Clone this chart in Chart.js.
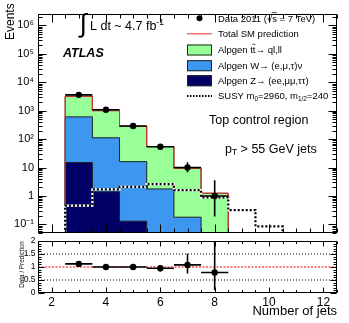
<!DOCTYPE html>
<html><head><meta charset="utf-8">
<script src="https://cdn.jsdelivr.net/npm/chart.js@4.4.1/dist/chart.umd.min.js"></script>
<style>
html,body{margin:0;padding:0;background:#fff;width:349px;height:323px;overflow:hidden}
#main{position:absolute;left:0;top:0}
#ratio{position:absolute;left:0;top:237px}
</style></head><body>
<canvas id="main" width="349" height="237"></canvas>
<canvas id="ratio" width="349" height="86"></canvas>
<script>
// ---------- data ----------
const nJets        = [3, 4, 5, 6, 7, 8];
const dataCounts   = [3600, 1080, 290, 54, 10, 1];
const dataErrUp    = [60, 33, 17, 7.5, 5.5, 2.6];
const dataErrDown  = [60, 33, 17, 7.2, 3.1, 0.81];
const ttbar        = [2600, 890, 264, 53, 9.3, 1.25];
const wjets        = [590, 110, 16, 1.75, 0.18, 0];
const zjets        = [15, 1.4, 0.13, 0.02, 0, 0];
const susyJets     = [3, 4, 5, 6, 7, 8, 9, 10];
const susy         = [0.46, 1.7, 2.1, 2.6, 1.6, 0.9, 0.32, 0.085];
const ratio        = [1.12, 1.0, 1.0, 0.95, 1.08, 0.79];
const ratioErrUp   = [0.03, 0.03, 0.06, 0.12, 0.43, 1.2];
const ratioErrDown = [0.03, 0.03, 0.06, 0.12, 0.33, 0.68];
const ratioRefLines = [1, 0.5, 1.5];
const yTickValues  = [0.1, 1, 10, 100, 1000, 1e4, 1e5, 1e6];
const yTickLabels  = ['10\u207B\u00B9', '1', '10', '10\u00B2', '10\u00B3', '10\u2074', '10\u2075', '10\u2076'];
const xTickValues  = [2, 4, 6, 8, 10, 12];
const xTickLabels  = ['2', '4', '6', '8', '10', '12'];
const ratioTickValues = [0, 0.5, 1, 1.5, 2];
const ratioTickLabels = ['0', '0.5', '1', '1.5', '2'];

// ---------- styling ----------
const FONT = "'Liberation Sans', Arial, Helvetica, sans-serif";
Chart.defaults.font.family = FONT;
Chart.defaults.color = '#000';
const C_TT = '#99ff99', C_W = '#3d97f0', C_Z = '#000066', C_RED = '#e8302a', C_EDGE = '#222';
const FLOOR = 1e-4;

function stepPoints(centers, values) {
  const pts = [{x: centers[0] - 0.5, y: FLOOR}];
  centers.forEach((c, i) => pts.push({x: c - 0.5, y: values[i] > 0 ? values[i] : FLOOR}));
  pts.push({x: centers[centers.length - 1] + 0.5, y: FLOOR});
  return pts;
}
const zStack  = zjets.map(v => v);
const wzStack = zjets.map((v, i) => v + wjets[i]);
const totStack = zjets.map((v, i) => v + wjets[i] + ttbar[i]);

// ---------- plugins ----------
const errorBarPlugin = {
  id: 'errorBars',
  beforeDatasetDraw(chart, args) {
    const ds = chart.data.datasets[args.index];
    if (!ds.errorBars) return;
    const {ctx, chartArea: a, scales: {x, y}} = chart;
    ctx.save();
    ctx.beginPath(); ctx.rect(a.left, a.top, a.right - a.left, a.bottom - a.top); ctx.clip();
    ctx.strokeStyle = '#000'; ctx.lineWidth = 1.6;
    ds.data.forEach((p, i) => {
      const px = x.getPixelForValue(p.x), py = y.getPixelForValue(p.y);
      ctx.beginPath();
      ctx.moveTo(x.getPixelForValue(p.x - 0.5), py);
      ctx.lineTo(x.getPixelForValue(p.x + 0.5), py);
      const lo = p.y - ds.errorBars.down[i];
      ctx.moveTo(px, y.getPixelForValue(p.y + ds.errorBars.up[i]));
      ctx.lineTo(px, lo > 0 || y.type !== 'logarithmic' ? y.getPixelForValue(lo) : a.bottom);
      ctx.stroke();
    });
    ctx.restore();
  }
};

function framePlugin(opt) {
  return {
    id: 'frame',
    afterDraw(chart) {
      const {ctx, chartArea: a, scales: {x, y}} = chart;
      ctx.save();
      ctx.strokeStyle = '#000'; ctx.lineWidth = 1;
      const L = Math.round(a.left) + 0.5, R = Math.round(a.right) - 0.5;
      const T = Math.round(a.top) + 0.5, B = Math.round(a.bottom) - 0.5;
      ctx.beginPath();
      for (let v = x.min; v <= x.max + 1e-9; v += opt.xStep) {
        const major = Math.abs(v / 2 - Math.round(v / 2)) < 1e-6;
        const len = major ? opt.xMajor : opt.xMinor;
        const px = Math.round(x.getPixelForValue(v)) + 0.5;
        ctx.moveTo(px, B); ctx.lineTo(px, B - len);
        ctx.moveTo(px, T); ctx.lineTo(px, T + len);
      }
      opt.yTicks(y).forEach(([v, major]) => {
        const py = Math.round(y.getPixelForValue(v)) + 0.5;
        const len = major ? opt.yMajor : opt.yMinor;
        ctx.moveTo(L, py); ctx.lineTo(L + len, py);
        ctx.moveTo(R, py); ctx.lineTo(R - len, py);
      });
      ctx.stroke();
      ctx.strokeRect(L, T, R - L, B - T);
      if (opt.yTitle) {
        ctx.save();
        ctx.fillStyle = '#000'; ctx.textAlign = 'center'; ctx.textBaseline = 'middle';
        ctx.font = `${opt.yTitle.size}px ${FONT}`;
        ctx.translate(opt.yTitle.x, y.getPixelForValue(opt.yTitle.at));
        ctx.rotate(-Math.PI / 2);
        ctx.fillText(opt.yTitle.text, 0, 0);
        ctx.restore();
      }
      ctx.restore();
    }
  };
}

function richText(ctx, x, y, parts, size, style) {
  let cx = x;
  for (const p of parts) {
    const [t, mode, over] = p;
    const s = mode ? size * 0.68 : size;
    ctx.font = `${style || ''} ${s}px ${FONT}`;
    const dy = mode === 1 ? -size * 0.38 : mode === -1 ? size * 0.22 : 0;
    ctx.fillText(t, cx, y + dy);
    const w = ctx.measureText(t).width;
    if (over) {
      ctx.save(); ctx.strokeStyle = '#000'; ctx.lineWidth = 0.7;
      ctx.beginPath(); ctx.moveTo(cx - 0.5, y - size * 0.95); ctx.lineTo(cx + w, y - size * 0.95); ctx.stroke();
      ctx.restore();
    }
    cx += w;
  }
  return cx;
}

const annotPlugin = {
  id: 'annot',
  afterDraw(chart) {
    const ctx = chart.ctx;
    const ds = chart.data.datasets;
    ctx.save();
    ctx.fillStyle = '#000'; ctx.textAlign = 'left'; ctx.textBaseline = 'alphabetic';
    ctx.save(); ctx.translate(13.5, 40); ctx.rotate(-Math.PI / 2);
    ctx.font = `12px ${FONT}`; ctx.fillText('Events', 0, 0); ctx.restore();
    ctx.font = `26px ${FONT}`; ctx.fillText('\u222B', 79.5, 32);
    richText(ctx, 90, 29.5, [['L dt ~ 4.7 fb', 0], ['-1', 1]], 12.5);
    ctx.font = `italic bold 12.5px ${FONT}`; ctx.fillText('ATLAS', 63, 56.5);
    ctx.font = `12.5px ${FONT}`; ctx.fillText('Top control region', 209, 123.5);
    richText(ctx, 225, 152.5, [['p', 0], ['T', -1], [' > 55 GeV jets', 0]], 12.5);
    // legend
    const lx0 = 187, lx1 = 212, tx = 218, fs = 9.5;
    const rows = [18.3, 33.3, 50, 65.7, 80.7, 96];
    const base = r => r + fs * 0.35;
    ctx.beginPath(); ctx.arc((lx0 + lx1) / 2, rows[0], 3, 0, Math.PI * 2); ctx.fill();
    richText(ctx, tx, base(rows[0]), [['Data 2011 (\u221A', 0], ['s', 0, true], [' = 7 TeV)', 0]], fs);
    ctx.strokeStyle = ds[3].borderColor; ctx.lineWidth = 1;
    ctx.beginPath(); ctx.moveTo(lx0, rows[1] + 0.5); ctx.lineTo(lx1, rows[1] + 0.5); ctx.stroke();
    richText(ctx, tx, base(rows[1]), [['Total SM prediction', 0]], fs);
    const boxes = [[ds[6].backgroundColor, rows[2], [['Alpgen t', 0], ['t', 0, true], ['\u2192 ql,ll', 0]]],
                   [ds[5].backgroundColor, rows[3], [['Alpgen W\u2192 (e,\u03BC,\u03C4)\u03BD', 0]]],
                   [ds[4].backgroundColor, rows[4], [['Alpgen Z\u2192 (ee,\u03BC\u03BC,\u03C4\u03C4)', 0]]]];
    boxes.forEach(([col, r, parts]) => {
      ctx.fillStyle = col; ctx.fillRect(lx0, r - 5.5, lx1 - lx0, 11);
      ctx.strokeStyle = C_EDGE; ctx.lineWidth = 1; ctx.strokeRect(lx0 + 0.5, r - 5.5 + 0.5, lx1 - lx0 - 1, 10);
      ctx.fillStyle = '#000';
      richText(ctx, tx, base(r), parts, fs);
    });
    ctx.strokeStyle = '#000'; ctx.lineWidth = 2; ctx.setLineDash([1.5, 1.5]);
    ctx.beginPath(); ctx.moveTo(lx0, rows[5]); ctx.lineTo(lx1, rows[5]); ctx.stroke();
    ctx.setLineDash([]);
    richText(ctx, tx, base(rows[5]), [['SUSY m', 0], ['0', -1], ['=2960, m', 0], ['1/2', -1], ['=240', 0]], fs);
    ctx.restore();
  }
};

// ---------- main chart ----------
const stepLine = (pts, extra) => Object.assign({
  type: 'line', data: pts, stepped: true, pointRadius: 0, tension: 0, borderWidth: 1
}, extra);

new Chart(document.getElementById('main'), {
  type: 'line',
  data: {
    datasets: [
      {type: 'scatter', data: nJets.map((c, i) => ({x: c, y: dataCounts[i]})),
       pointRadius: 3.2, backgroundColor: '#000', borderWidth: 0,
       errorBars: {up: dataErrUp, down: dataErrDown}},
      stepLine(stepPoints(susyJets, susy), {borderColor: '#000', borderWidth: 2.2, borderDash: [2, 2], fill: false}),
      stepLine(stepPoints(susyJets, susy), {borderColor: '#fff', borderWidth: 2.2, fill: false}),
      stepLine(stepPoints(nJets, totStack), {borderColor: C_RED, borderWidth: 1, fill: false}),
      stepLine(stepPoints(nJets, zStack), {borderColor: C_EDGE, backgroundColor: C_Z, fill: 'start'}),
      stepLine(stepPoints(nJets, wzStack), {borderColor: C_EDGE, backgroundColor: C_W, fill: 'start'}),
      stepLine(stepPoints(nJets, totStack), {borderColor: C_EDGE, backgroundColor: C_TT, fill: 'start'})
    ]
  },
  options: {
    responsive: false, animation: false, devicePixelRatio: 1, events: [],
    layout: {padding: {left: 0, right: 12, top: 14, bottom: 3}},
    plugins: {legend: {display: false}, tooltip: {enabled: false}},
    scales: {
      x: {type: 'linear', min: 1.5, max: 12.5, display: false},
      y: {
        type: 'logarithmic', min: 0.05, max: 2.5e6,
        grid: {display: false, drawTicks: false}, border: {display: false},
        afterBuildTicks: s => { s.ticks = yTickValues.map(v => ({value: v})); },
        afterFit: s => { s.width = 38; s.paddingTop = 0; s.paddingBottom = 0; },
        ticks: {font: {size: 11}, color: '#000', padding: 4, autoSkip: false,
                callback: (v, i) => yTickLabels[i]}
      }
    }
  },
  plugins: [errorBarPlugin, annotPlugin, framePlugin({
    xStep: 0.5, xMajor: 8, xMinor: 4, yMajor: 8, yMinor: 4,
    yTicks: y => {
      const out = [];
      for (let d = -2; d <= 6; d++) for (let k = 1; k <= 9; k++) {
        const v = k * Math.pow(10, d);
        if (v >= y.min * 0.999 && v <= y.max) out.push([v, k === 1]);
      }
      return out;
    }
  })]
});

// ---------- ratio chart ----------
new Chart(document.getElementById('ratio'), {
  type: 'line',
  data: {
    datasets: [
      {type: 'scatter', data: nJets.map((c, i) => ({x: c, y: ratio[i]})),
       pointRadius: 3.2, backgroundColor: '#000', borderWidth: 0,
       errorBars: {up: ratioErrUp, down: ratioErrDown}},
      {data: [{x: 1.5, y: ratioRefLines[0]}, {x: 12.5, y: ratioRefLines[0]}], borderColor: '#ff7a7a',
       borderWidth: 2, borderDash: [2, 1.5], pointRadius: 0},
      {data: [{x: 1.5, y: ratioRefLines[1]}, {x: 12.5, y: ratioRefLines[1]}], borderColor: '#000',
       borderWidth: 1, borderDash: [1, 2], pointRadius: 0},
      {data: [{x: 1.5, y: ratioRefLines[2]}, {x: 12.5, y: ratioRefLines[2]}], borderColor: '#000',
       borderWidth: 1, borderDash: [1, 2], pointRadius: 0}
    ]
  },
  options: {
    responsive: false, animation: false, devicePixelRatio: 1, events: [],
    layout: {padding: {left: 0, right: 12, top: 2.5, bottom: 0}},
    plugins: {legend: {display: false}, tooltip: {enabled: false}},
    scales: {
      x: {
        type: 'linear', min: 1.5, max: 12.5,
        grid: {display: false, drawTicks: false}, border: {display: false},
        afterBuildTicks: s => { s.ticks = xTickValues.map(v => ({value: v})); },
        afterFit: s => { s.height = 30; s.paddingLeft = 0; s.paddingRight = 0; },
        ticks: {font: {size: 12}, color: '#000', padding: 2, maxRotation: 0, autoSkip: false,
                callback: (v, i) => xTickLabels[i]},
        title: {display: true, text: 'Number of jets', align: 'end', font: {size: 13}, color: '#000',
                padding: {top: 0, bottom: 4}}
      },
      y: {
        min: 0, max: 2,
        grid: {display: false, drawTicks: false}, border: {display: false},
        afterBuildTicks: s => { s.ticks = ratioTickValues.map(v => ({value: v})); },
        afterFit: s => { s.width = 38; s.paddingTop = 0; s.paddingBottom = 0; },
        ticks: {font: {size: 8.5}, color: '#000', padding: 2.5, autoSkip: false,
                callback: (v, i) => ratioTickLabels[i]}
      }
    }
  },
  plugins: [errorBarPlugin, framePlugin({
    xStep: 0.5, xMajor: 5, xMinor: 2.5, yMajor: 6, yMinor: 3,
    yTicks: y => {
      const out = [];
      for (let k = 0; k <= 20; k++) out.push([k / 10, k % 5 === 0]);
      return out;
    },
    yTitle: {text: 'Data / Prediction', size: 6.3, x: 22.5, at: 1.1}
  })]
});
</script>
</body></html>
